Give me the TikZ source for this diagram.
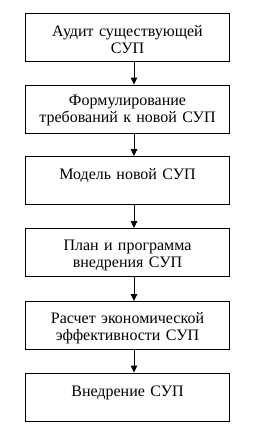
\documentclass[tikz,border=0pt]{standalone}
\usepackage{fontspec}
\setmainfont{Liberation Serif}
\newfontfamily\tnr{Liberation Serif}
\usetikzlibrary{arrows.meta}
\begin{document}
\begin{tikzpicture}[x=1pt,y=1pt,
  stepbox/.style={draw=black, line width=0.9pt, minimum width=203.5pt, minimum height=48pt,
    inner sep=0pt},
  steptext/.style={text width=200pt, align=center, inner sep=0pt,
    font=\tnr\fontsize{16}{17}\selectfont},
  flow/.style={-{Triangle[width=6.5pt,length=7pt]}, line width=0.9pt}]
\useasboundingbox (0,0) rectangle (254,-431);
\fill[white] (0,0) rectangle (254,-431);
\node[stepbox] (b1) at (127.5,-37)    {};
\node[stepbox] (b2) at (127.5,-109)   {};
\node[stepbox] (b3) at (127.5,-180.5) {};
\node[stepbox] (b4) at (127.5,-252.5) {};
\node[stepbox] (b5) at (127.5,-325.5) {};
\node[stepbox] (b6) at (127.5,-397)   {};
\node[steptext] (t1) at ([yshift=-3pt]b1.center) {Аудит существующей\\СУП};
\node[steptext] (t2) at ([yshift=-1pt]b2.center) {Формулирование\\требований к новой СУП};
\node[steptext] (t3) at ([yshift=-5pt]b3.center) {Модель новой СУП\\\strut};
\node[steptext] (t4) at ([yshift=-3pt]b4.center) {План и программа\\внедрения СУП};
\node[steptext] (t5) at ([yshift=-3pt]b5.center) {Расчет экономической\\эффективности СУП};
\node[steptext] (t6) at ([yshift=-5pt]b6.center) {Внедрение СУП\\\strut};
\foreach \a/\b in {b1/b2,b2/b3,b3/b4,b4/b5,b5/b6}
  \draw[flow] ([xshift=6.5pt]\a.south) -- ([xshift=6.5pt]\b.north);
\end{tikzpicture}
\end{document}
